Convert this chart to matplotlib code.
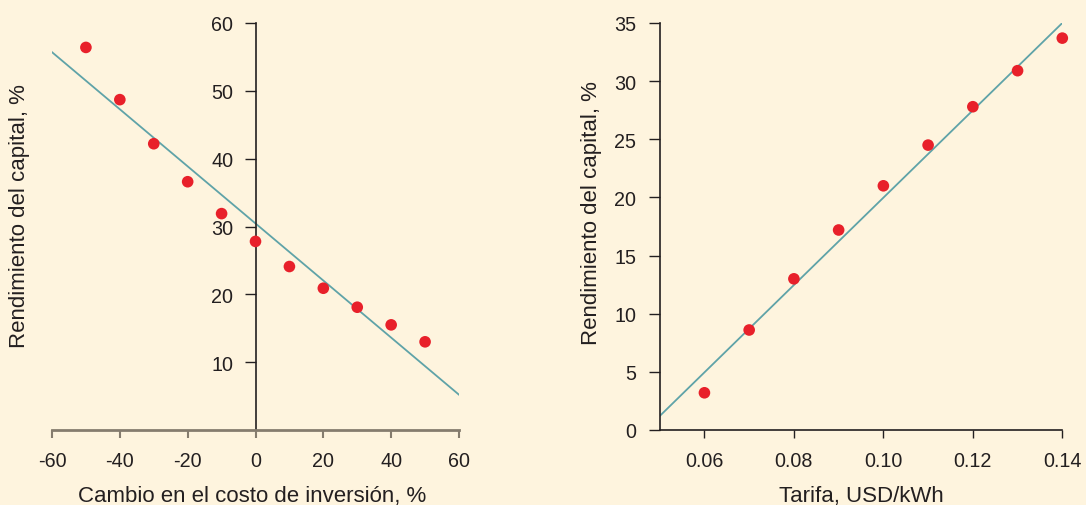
import matplotlib.pyplot as plt

# left panel: change in investment cost vs return on equity
cost_change = [-50, -40, -30, -20, -10, 0, 10, 20, 30, 40, 50]
roe_cost = [56.4, 48.7, 42.2, 36.6, 31.9, 27.8, 24.1, 20.9, 18.1, 15.5, 13.0]
cost_fit_x = [-60, 60]
cost_fit_y = [55.7, 5.2]
cost_xticks = [-60, -40, -20, 0, 20, 40, 60]
cost_yticks = [10, 20, 30, 40, 50, 60]

# right panel: tariff vs return on equity
tariff = [0.06, 0.07, 0.08, 0.09, 0.10, 0.11, 0.12, 0.13, 0.14]
roe_tariff = [3.2, 8.6, 13.0, 17.2, 21.0, 24.5, 27.8, 30.9, 33.7]
tariff_fit_x = [0.05, 0.14]
tariff_fit_y = [1.2, 35.0]
tariff_xticks = [0.06, 0.08, 0.10, 0.12, 0.14]
tariff_xlabels = ["0.06", "0.08", "0.10", "0.12", "0.14"]
tariff_yticks = [0, 5, 10, 15, 20, 25, 30, 35]

BG = "#fef4de"
RED = "#e8202a"
TEAL = "#5fa3a8"
INK = "#231f20"
TICK_FS = 14.2

plt.rcParams["font.family"] = ["Liberation Sans", "DejaVu Sans"]

fig = plt.figure(figsize=(10.86, 5.06), dpi=100)
fig.patch.set_facecolor(BG)

W, H = 1086, 506
bottom = 1 - 431 / H
height = (431 - 24) / H

# ---- left chart ----
ax1 = fig.add_axes([52 / W, bottom, (459 - 52) / W, height])
ax1.set_facecolor(BG)
ax1.plot(cost_fit_x, cost_fit_y, color=TEAL, lw=1.3, zorder=2)
ax1.scatter(cost_change, roe_cost, s=70, color=RED, edgecolors="none", zorder=3)
ax1.set_xlim(-60, 60)
ax1.set_ylim(0, 60)
ax1.spines["top"].set_visible(False)
ax1.spines["right"].set_visible(False)
ax1.spines["left"].set_position(("data", 0))
ax1.spines["left"].set_color(INK)
ax1.spines["left"].set_linewidth(1.2)
ax1.spines["bottom"].set_color("#857c6e")
ax1.spines["bottom"].set_linewidth(2.0)
ax1.set_xticks(cost_xticks)
ax1.set_xticklabels([str(v) for v in cost_xticks])
ax1.set_yticks(cost_yticks)
ax1.tick_params(axis="y", direction="out", length=8, width=1, pad=8,
                colors=INK, labelsize=TICK_FS)
ax1.tick_params(axis="x", direction="out", length=6, width=1.5, pad=9,
                colors="#857c6e", labelcolor=INK, labelsize=TICK_FS)

# ---- right chart ----
ax2 = fig.add_axes([659.7 / W, bottom, (1062.3 - 659.7) / W, height])
ax2.set_facecolor(BG)
ax2.plot(tariff_fit_x, tariff_fit_y, color=TEAL, lw=1.3, zorder=2)
ax2.scatter(tariff, roe_tariff, s=70, color=RED, edgecolors="none", zorder=3,
            clip_on=False)
ax2.set_xlim(0.05, 0.14)
ax2.set_ylim(0, 35)
ax2.spines["top"].set_visible(False)
ax2.spines["right"].set_visible(False)
for side in ("left", "bottom"):
    ax2.spines[side].set_color(INK)
    ax2.spines[side].set_linewidth(1.2)
ax2.set_xticks(tariff_xticks)
ax2.set_xticklabels(tariff_xlabels)
ax2.set_yticks(tariff_yticks)
ax2.tick_params(axis="y", direction="out", length=8, width=1, pad=9,
                colors=INK, labelsize=TICK_FS)
ax2.tick_params(axis="x", direction="out", length=6, width=1, pad=9,
                colors=INK, labelsize=TICK_FS)

# axis titles
fig.text(20 / W, 1 - 216 / H, "Rendimiento del capital, %", rotation=90,
         ha="center", va="center", fontsize=16, color=INK)
fig.text(252 / W, 1 - 497 / H, "Cambio en el costo de inversión, %",
         ha="center", va="center", fontsize=16, color=INK)
fig.text(592 / W, 1 - 213 / H, "Rendimiento del capital, %", rotation=90,
         ha="center", va="center", fontsize=16, color=INK)
fig.text(861 / W, 1 - 497 / H, "Tarifa, USD/kWh",
         ha="center", va="center", fontsize=16, color=INK)

fig.savefig("out.png", dpi=100, facecolor=BG)
